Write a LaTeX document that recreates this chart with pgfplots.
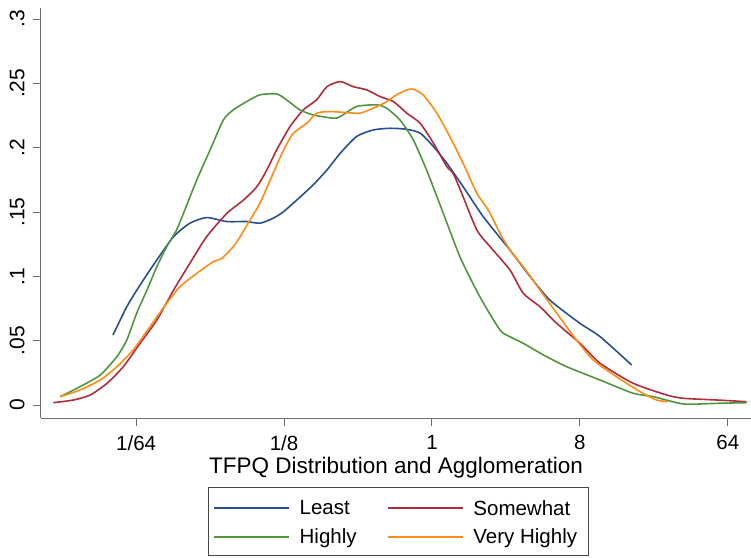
\documentclass[border=0pt]{standalone}
\usepackage{fontspec}
\setmainfont{Liberation Sans}
\usepackage{pgfplots}
\pgfplotsset{compat=1.18}
\definecolor{cLeast}{RGB}{40,80,145}
\definecolor{cSome}{RGB}{178,45,60}
\definecolor{cHigh}{RGB}{80,150,60}
\definecolor{cVery}{RGB}{255,140,20}
\definecolor{axisgray}{RGB}{110,110,110}
\definecolor{boxgray}{RGB}{70,70,70}
\begin{document}
\begin{tikzpicture}
\begin{axis}[
  name=ax, at={(0,0)}, anchor=south west,
  scale only axis, width=710bp, height=410bp,
  xmin=-7.93, xmax=6.47, ymin=-0.0101, ymax=0.3086,
  axis lines=left,
  axis line style={-, draw=axisgray, line width=1bp},
  tick align=outside, major tick length=8bp,
  tick style={draw=axisgray, line width=1bp},
  xtick={-6,-3,0,3,6}, xticklabels={1/64,1/8,1,8,64},
  ytick={0,0.05,0.1,0.15,0.2,0.25,0.3},
  yticklabels={0,.05,.1,.15,.2,.25,.3},
  xticklabel style={font=\fontsize{20.5bp}{24bp}\selectfont, yshift=-6bp},
  yticklabel style={xshift=-5bp, rotate=90, anchor=south, font=\fontsize{21bp}{24bp}\selectfont},
  xlabel={TFPQ Distribution and Agglomeration},
  xlabel style={font=\fontsize{22.5bp}{26bp}\selectfont},
  legend columns=2,
  legend cell align=left,
  legend image code/.code={\draw[#1, line width=1.8bp] (0bp,0bp) -- (75bp,0bp);},
  legend style={at={(0.5,-0.1683)}, anchor=north, draw=none,
    inner xsep=9bp, inner ysep=11bp, row sep=8bp,
    font=\fontsize{20.5bp}{24bp}\selectfont,
    /tikz/every odd column/.append style={column sep=8bp},
    /tikz/every even column/.append style={column sep=28bp}},
  every axis plot/.append style={line width=1.6bp, smooth, tension=0.4},
]
\addplot[cLeast] coordinates {
(-6.47,0.0544) (-6.19,0.0764) (-5.92,0.0933) (-5.58,0.1128) (-5.24,0.1309)
(-4.91,0.1413) (-4.57,0.1457) (-4.16,0.1426) (-3.76,0.1426) (-3.49,0.1413)
(-3.22,0.1452) (-3.01,0.1503) (-2.74,0.1594) (-2.41,0.1711) (-2.13,0.1827)
(-1.86,0.1957) (-1.53,0.2087) (-1.19,0.2138) (-0.85,0.2151) (-0.51,0.2143)
(-0.24,0.2113) (0.03,0.2009) (0.30,0.1880) (0.63,0.1698) (1.04,0.1464)
(1.58,0.1205) (1.99,0.0998) (2.39,0.0816) (3.00,0.0635) (3.41,0.0531)
(4.05,0.0311)
};
\addlegendentry{Least}
\addplot[cSome] coordinates {
(-7.68,0.0018) (-7.27,0.0039) (-6.93,0.0078) (-6.59,0.0169) (-6.26,0.0298)
(-5.92,0.0480) (-5.58,0.0661) (-5.24,0.0894) (-4.91,0.1102) (-4.57,0.1309)
(-4.16,0.1490) (-3.82,0.1594) (-3.55,0.1698) (-3.35,0.1827) (-3.15,0.1983)
(-2.88,0.2164) (-2.61,0.2294) (-2.34,0.2372) (-2.13,0.2475) (-1.86,0.2514)
(-1.60,0.2475) (-1.32,0.2449) (-1.05,0.2397) (-0.78,0.2358) (-0.51,0.2268)
(-0.24,0.2190) (0.03,0.2035) (0.30,0.1853) (0.43,0.1800) (0.63,0.1620)
(0.91,0.1360) (1.18,0.1230) (1.58,0.1050) (1.85,0.0869) (2.19,0.0764)
(2.53,0.0635) (3.00,0.0480)
(3.41,0.0324) (4.08,0.0169) (4.76,0.0078) (5.10,0.0052) (5.77,0.0039)
(6.38,0.0026)
};
\addlegendentry{Somewhat}
\addplot[cHigh] coordinates {
(-7.54,0.0065) (-7.14,0.0142) (-6.73,0.0233) (-6.39,0.0376) (-6.19,0.0505)
(-5.99,0.0713) (-5.78,0.0894) (-5.58,0.1076) (-5.38,0.1231) (-5.18,0.1361)
(-5.04,0.1490) (-4.77,0.1750) (-4.50,0.1983) (-4.23,0.2216) (-4.03,0.2294)
(-3.76,0.2358) (-3.49,0.2411) (-3.15,0.2418) (-2.95,0.2372) (-2.68,0.2294)
(-2.41,0.2255) (-2.00,0.2229) (-1.86,0.2242) (-1.53,0.2320) (-1.12,0.2333)
(-0.92,0.2307) (-0.65,0.2216) (-0.38,0.2061) (-0.11,0.1827) (0.16,0.1560)
(0.57,0.1150) (0.97,0.0842) (1.38,0.0583) (1.58,0.0531) (1.85,0.0480)
(2.26,0.0389) (2.73,0.0298) (3.41,0.0194) (4.08,0.0091) (4.49,0.0065)
(5.10,0.0008) (5.77,0.0013) (6.38,0.0018)
};
\addlegendentry{Highly}
\addplot[cVery] coordinates {
(-7.54,0.0065) (-7.14,0.0117) (-6.73,0.0194) (-6.39,0.0298) (-6.06,0.0428)
(-5.72,0.0609) (-5.38,0.0791) (-5.11,0.0920) (-4.77,0.1024) (-4.43,0.1115)
(-4.26,0.1141) (-4.03,0.1231) (-3.89,0.1309) (-3.69,0.1439) (-3.49,0.1568)
(-3.22,0.1802) (-3.01,0.1983) (-2.81,0.2113) (-2.54,0.2190) (-2.34,0.2268)
(-2.07,0.2281) (-1.73,0.2273) (-1.46,0.2268) (-1.19,0.2307) (-0.92,0.2358)
(-0.72,0.2411) (-0.51,0.2449) (-0.38,0.2455) (-0.18,0.2411) (0.10,0.2268)
(0.36,0.2087) (0.63,0.1880) (0.91,0.1646) (1.14,0.1516) (1.38,0.1335)
(1.58,0.1205) (1.85,0.1075) (2.19,0.0894) (2.53,0.0713) (2.93,0.0505)
(3.27,0.0350) (3.74,0.0220)
(4.22,0.0104) (4.55,0.0039) (4.79,0.0026)
};
\addlegendentry{Very Highly}
\end{axis}
\draw[boxgray, line width=1bp] (167bp,-137bp) rectangle (547bp,-69bp);
\pgfresetboundingbox
\path[use as bounding box] (-41bp,-140bp) rectangle (710bp,418bp);
\end{tikzpicture}
\end{document}
